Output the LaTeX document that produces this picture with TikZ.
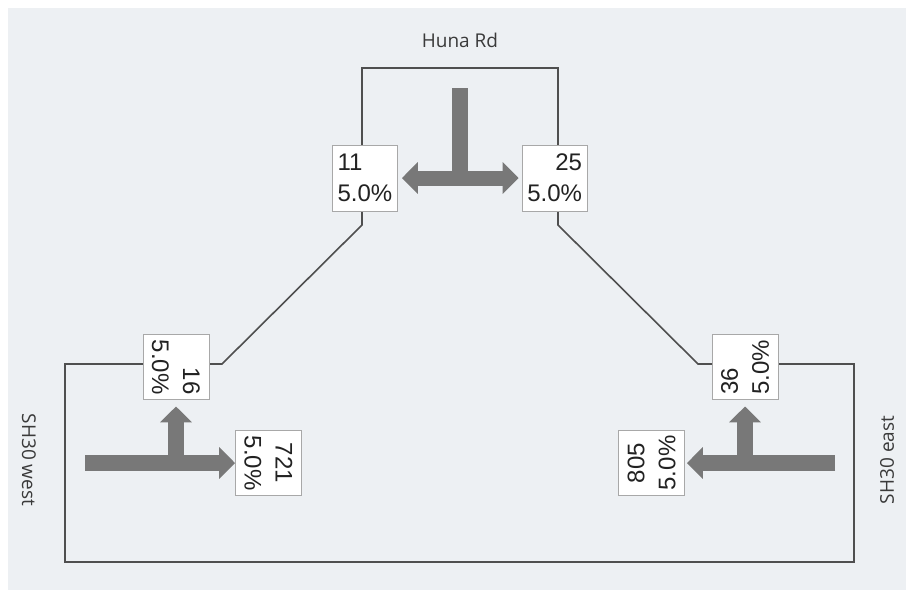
\documentclass[tikz,border=0pt]{standalone}
\usepackage{fontspec}
\setmainfont{Liberation Sans}
\newfontfamily\labelfont{Open Sans}
\usetikzlibrary{arrows.meta}
\definecolor{bg}{HTML}{EDF0F3}
\definecolor{road}{HTML}{4F4F4F}
\definecolor{flow}{HTML}{787878}
\definecolor{boxline}{HTML}{A8A8A8}
\definecolor{txt}{HTML}{222222}
\definecolor{lbl}{HTML}{3A3A3A}
\tikzset{
  roadline/.style={draw=road, line width=1.6pt, line join=miter},
  flowstem/.style={draw=flow, line width=16pt},
  flowarrow/.style={draw=flow, line width=16pt, -{Triangle[width=31pt,length=16pt]}},
  flowboth/.style={draw=flow, line width=15pt, {Triangle[width=31pt,length=16pt]}-{Triangle[width=31pt,length=16pt]}},
  countbox/.style={draw=boxline, line width=0.9pt, fill=white, minimum width=65pt,
    minimum height=66pt, text width=55pt, inner xsep=5pt, inner ysep=0pt, text=txt,
    font=\fontsize{24}{31}\selectfont},
  roadlabel/.style={text=lbl, font=\labelfont\fontsize{19}{22}\selectfont}
}
\begin{document}
\begin{tikzpicture}[x=1pt,y=-1pt]
\path[fill=white] (0,0) rectangle (906,590);
\useasboundingbox (0,0) rectangle (906,590);
\fill[bg] (8,8) rectangle (906,590);
% road outline
\coordinate (r1) at (362,68);
\coordinate (r2) at (558,68);
\coordinate (r3) at (558,225);
\coordinate (r4) at (698,364);
\coordinate (r5) at (854,364);
\coordinate (r6) at (854,562);
\coordinate (r7) at (65,562);
\coordinate (r8) at (65,364);
\coordinate (r9) at (222,364);
\coordinate (r10) at (362,225);
\draw[roadline] (r1) -- (r2) -- (r3) -- (r4) -- (r5) -- (r6) -- (r7) -- (r8) -- (r9) -- (r10) -- cycle;
% count boxes
\node[countbox, align=left] (b11) at (365,178) {11\\5.0\%};
\node[countbox, align=right] (b25) at (554.5,178) {25\\5.0\%};
\node[countbox, align=right, rotate=-90] (b16) at (176,367) {16\\5.0\%};
\node[countbox, align=center, rotate=-90] (b721) at (268.5,463) {721\\5.0\%};
\node[countbox, align=left, rotate=90] (b36) at (745,367) {36\\5.0\%};
\node[countbox, align=center, rotate=90] (b805) at (651.5,463) {805\\5.0\%};
% flow arrows
\coordinate (ts) at (460,88);
\coordinate (tj) at (460,178);
\draw[flowstem] (ts) -- (tj);
\draw[flowboth] ([xshift=4pt]b11.east) -- ([xshift=-3pt]b25.west);
\coordinate (lw) at (85,463);
\coordinate (lj) at (176,463);
\draw[flowarrow] (lw) -- (b721);
\draw[flowarrow, shorten >=6.5pt] (lj) -- (b16);
\coordinate (re) at (835,463);
\coordinate (rj) at (745,463);
\draw[flowarrow, shorten >=2pt] (re) -- (b805);
\draw[flowarrow, shorten >=6.5pt] (rj) -- (b36);
% road labels
\node[roadlabel] (huna) at (460,40) {Huna Rd};
\node[roadlabel, rotate=-90] (west) at (29,460) {SH30 west};
\node[roadlabel, rotate=90] (east) at (887,460) {SH30 east};
\end{tikzpicture}
\end{document}
